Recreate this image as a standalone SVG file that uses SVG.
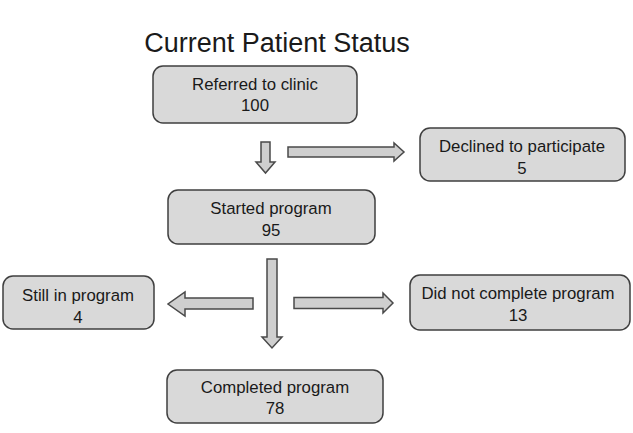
<svg xmlns="http://www.w3.org/2000/svg" width="633" height="433" viewBox="0 0 633 433">
<style>
.box{fill:#d9d9d9;stroke:#3f3f3f;stroke-width:1.5}
.arr{fill:#cfcfcf;stroke:#4a4a4a;stroke-width:1.5;stroke-linejoin:miter}
text{font-family:"Liberation Sans",Arial,sans-serif;font-size:16.8px;fill:#1a1a1a;text-anchor:middle}
.title{font-size:27px}
</style>
<rect width="633" height="433" fill="#ffffff"/>
<text class="title" x="277" y="52">Current Patient Status</text>
<g id="connectors">
<polygon class="arr" points="261,142 270,142 270,162 275,162 265.5,173 256,162 261,162"/>
<polygon class="arr" points="288,147 394,147 394,143 404,152 394,161 394,157 288,157"/>
<polygon class="arr" points="267,259 277,259 277,337 282,337 272,348 262,337 267,337"/>
<polygon class="arr" points="294,297.5 383,297.5 383,293 393,303 383,313 383,308.5 294,308.5"/>
<polygon class="arr" points="253,298 185,298 185,292 168,304 185,316 185,309 253,309"/>
</g>
<g id="referred">
<rect class="box" x="153" y="66" width="204" height="57" rx="10"/>
<text x="255" y="90">Referred  to clinic</text>
<text x="255" y="111">100</text>
</g>
<g id="declined">
<rect class="box" x="420" y="128" width="205" height="53" rx="10"/>
<text x="522" y="152">Declined to participate</text>
<text x="522" y="174">5</text>
</g>
<g id="started">
<rect class="box" x="168" y="190" width="207" height="54" rx="10"/>
<text x="271" y="214">Started program</text>
<text x="271" y="236">95</text>
</g>
<g id="still">
<rect class="box" x="3" y="276" width="151" height="53" rx="10"/>
<text x="78" y="301">Still in program</text>
<text x="78" y="323">4</text>
</g>
<g id="didnot">
<rect class="box" x="410" y="275" width="220" height="55" rx="10"/>
<text x="518" y="299">Did not complete program</text>
<text x="518" y="321">13</text>
</g>
<g id="completed">
<rect class="box" x="167" y="370" width="216" height="53" rx="10"/>
<text x="275" y="393">Completed program</text>
<text x="275" y="414">78</text>
</g>
</svg>
